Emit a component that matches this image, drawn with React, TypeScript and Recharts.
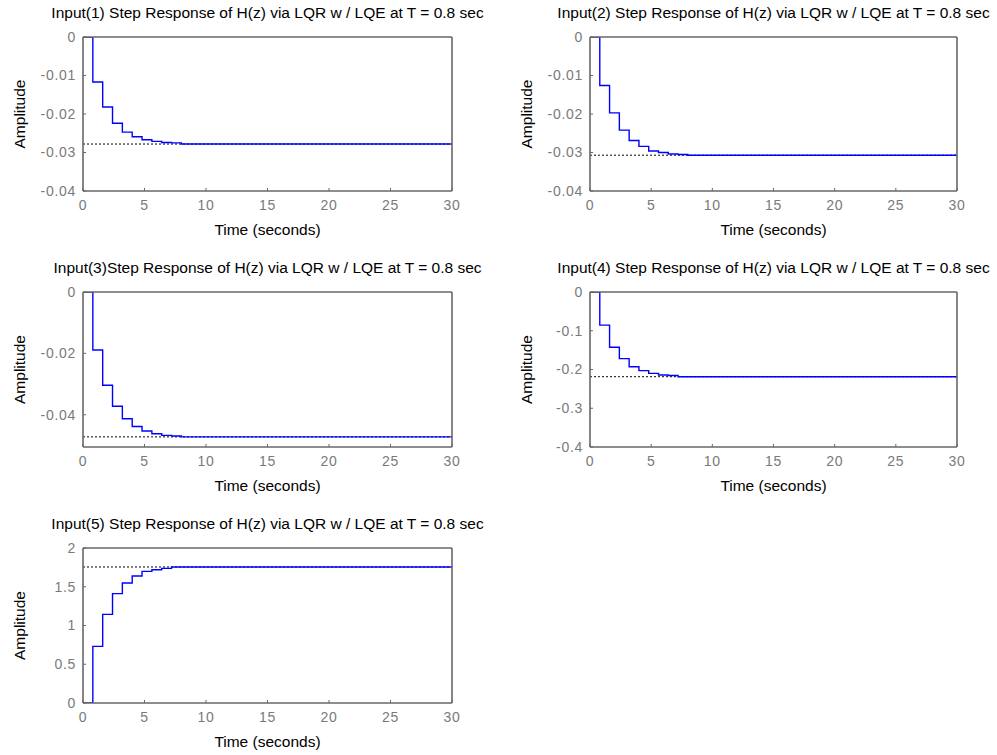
import React from 'react';
import { LineChart, Line, XAxis, YAxis, Label } from 'recharts';

// sample instants of the discrete response (T = 0.8 s); the last level holds to the axis end
const sampleTimes = [0, 0.8, 1.6, 2.4, 3.2, 4.0, 4.8, 5.6, 6.4, 7.2, 8.0];
const endTime = 30;
const timeTicks = [0, 5, 10, 15, 20, 25, 30];

const input1 = [0, -0.0117, -0.0182, -0.0224, -0.0247, -0.0259, -0.0267, -0.0271, -0.0274, -0.0275, -0.0278];
const input2 = [0, -0.0126, -0.0197, -0.0242, -0.0269, -0.0284, -0.0296, -0.03, -0.0304, -0.0305, -0.0307];
const input3 = [0, -0.0189, -0.0304, -0.0372, -0.0413, -0.0438, -0.0453, -0.0462, -0.0467, -0.0469, -0.0472];
const input4 = [0, -0.0855, -0.1425, -0.172, -0.193, -0.203, -0.21, -0.214, -0.2155, -0.2186, -0.2186];
const input5 = [0, 0.731, 1.144, 1.411, 1.548, 1.639, 1.699, 1.72, 1.737, 1.755, 1.755];
const steadyStates = [-0.0278, -0.0307, -0.0472, -0.2186, 1.755];

const titles = [
  'Input(1) Step Response of H(z) via LQR w / LQE at T = 0.8 sec',
  'Input(2) Step Response of H(z) via LQR w / LQE at T = 0.8 sec',
  'Input(3)Step Response of H(z) via LQR w / LQE at T = 0.8 sec',
  'Input(4) Step Response of H(z) via LQR w / LQE at T = 0.8 sec',
  'Input(5) Step Response of H(z) via LQR w / LQE at T = 0.8 sec',
];

const yDomains = [[-0.04, 0], [-0.04, 0], [-0.0505, 0], [-0.4, 0], [0, 2]];
const yTicks = [
  [-0.04, -0.03, -0.02, -0.01, 0],
  [-0.04, -0.03, -0.02, -0.01, 0],
  [-0.04, -0.02, 0],
  [-0.4, -0.3, -0.2, -0.1, 0],
  [0, 0.5, 1, 1.5, 2],
];

// plot area of each subplot, page pixels
const panels = [
  { left: 83, top: 37, width: 369, height: 154 },
  { left: 590, top: 37, width: 367, height: 154 },
  { left: 83, top: 292, width: 369, height: 155 },
  { left: 590, top: 292, width: 367, height: 155 },
  { left: 83, top: 548, width: 369, height: 155 },
];

const AXIS_W = 83;
const AXIS_H = 55;
const PAD_TOP = 37;
const PAD_RIGHT = 40;
const AXIS_COLOR = '#676767';
const TICK_COLOR = '#7a7a7a';
const FONT = '"Liberation Sans", Arial, sans-serif';

const tickStyle = { fill: TICK_COLOR, fontSize: 14, letterSpacing: 0.7 };
const axisLine = { stroke: AXIS_COLOR, strokeWidth: 1.6 };
const tickLine = { stroke: AXIS_COLOR, strokeWidth: 1 };

const StepPanel = ({ box, title, values, ss, domain, ticks }: any) => {
  const data = sampleTimes
    .map((t, i) => ({ t, y: values[i], ss }))
    .concat([{ t: endTime, y: ss, ss }]);

  return (
    <>
      <div
        style={{
          position: 'absolute',
          left: box.left - 60,
          width: box.width + 120,
          top: box.top - 33,
          textAlign: 'center',
          whiteSpace: 'nowrap',
          fontSize: 15.5,
          lineHeight: '18px',
          color: '#000',
        }}
      >
        {title}
      </div>
      <div style={{ position: 'absolute', left: box.left - AXIS_W, top: box.top - PAD_TOP }}>
        <LineChart
          width={box.width + AXIS_W + PAD_RIGHT}
          height={box.height + PAD_TOP + AXIS_H}
          data={data}
          margin={{ top: PAD_TOP - 1, right: PAD_RIGHT - 1, bottom: 0, left: 0 }}
        >
          <XAxis
            xAxisId="b"
            dataKey="t"
            type="number"
            domain={[0, endTime]}
            ticks={timeTicks}
            allowDataOverflow
            height={AXIS_H}
            tickSize={-3}
            tickMargin={12}
            tick={tickStyle}
            axisLine={axisLine}
            tickLine={tickLine}
          >
            <Label value="Time (seconds)" position="insideBottom" offset={11} style={{ fill: '#000', fontSize: 15.5 }} />
          </XAxis>
          <XAxis
            xAxisId="top"
            orientation="top"
            type="number"
            domain={[0, endTime]}
            ticks={timeTicks}
            allowDataOverflow
            height={1}
            tickSize={-3}
            tick={false}
            axisLine={axisLine}
            tickLine={tickLine}
          />
          <YAxis
            yAxisId="l"
            type="number"
            domain={domain}
            ticks={ticks}
            allowDataOverflow
            width={AXIS_W}
            tickSize={-3}
            tickMargin={10}
            tick={tickStyle}
            axisLine={axisLine}
            tickLine={tickLine}
          >
            <Label
              value="Amplitude"
              angle={-90}
              position="insideLeft"
              offset={19}
              style={{ fill: '#000', fontSize: 15.5, textAnchor: 'middle' }}
            />
          </YAxis>
          <YAxis
            yAxisId="r"
            orientation="right"
            type="number"
            domain={domain}
            ticks={ticks}
            allowDataOverflow
            width={1}
            tickSize={-3}
            tick={false}
            axisLine={axisLine}
            tickLine={tickLine}
          />
          <Line
            xAxisId="b"
            yAxisId="l"
            dataKey="ss"
            type="linear"
            stroke="#000"
            strokeWidth={1}
            strokeDasharray="2 2"
            dot={false}
            activeDot={false}
            isAnimationActive={false}
          />
          <Line
            xAxisId="b"
            yAxisId="l"
            dataKey="y"
            type="stepAfter"
            stroke="#0000ff"
            strokeWidth={1.4}
            dot={false}
            activeDot={false}
            isAnimationActive={false}
          />
        </LineChart>
      </div>
    </>
  );
};

const series = [input1, input2, input3, input4, input5];

export default function App() {
  return (
    <div style={{ position: 'absolute', left: 0, top: 0, width: 997, height: 755, background: '#fff', fontFamily: FONT }}>
      {panels.map((box, i) => (
        <StepPanel
          key={i}
          box={box}
          title={titles[i]}
          values={series[i]}
          ss={steadyStates[i]}
          domain={yDomains[i]}
          ticks={yTicks[i]}
        />
      ))}
    </div>
  );
}
